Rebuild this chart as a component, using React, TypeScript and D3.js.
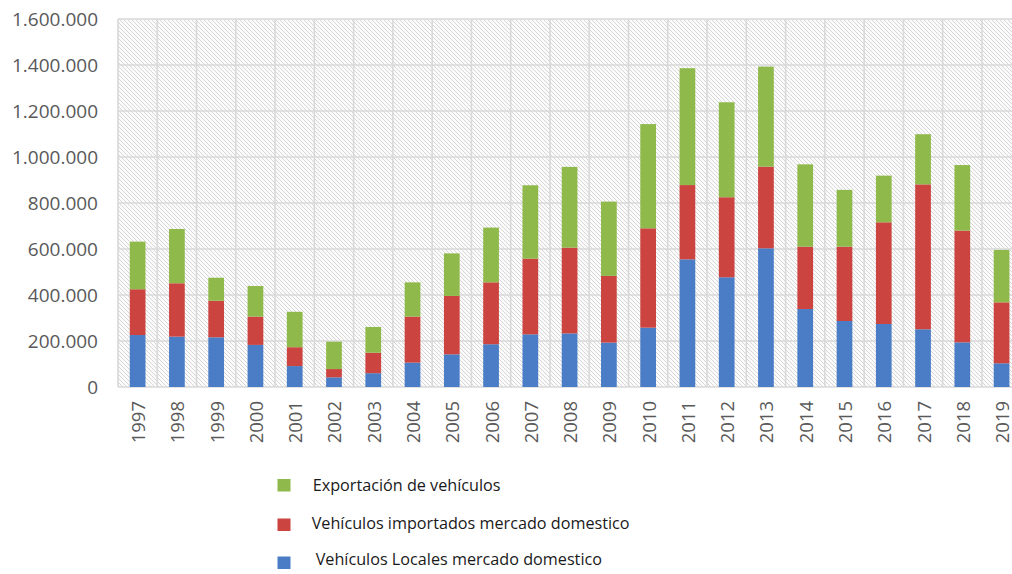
import React from "react";
import * as d3 from "d3";

// Years on the category axis
const years: string[] = [
  "1997", "1998", "1999", "2000", "2001", "2002", "2003", "2004", "2005", "2006",
  "2007", "2008", "2009", "2010", "2011", "2012", "2013", "2014", "2015", "2016",
  "2017", "2018", "2019",
];

// Vehículos locales vendidos en el mercado doméstico
const locales: number[] = [
  226000, 219000, 216000, 183000, 91000, 42000, 60000, 106000, 142000, 186000,
  229000, 233000, 193000, 258000, 555000, 477000, 603000, 339000, 287000, 274000,
  251000, 194000, 103000,
];

// Vehículos importados vendidos en el mercado doméstico
const importados: number[] = [
  199000, 232000, 159000, 123000, 82000, 36000, 89000, 200000, 254000, 269000,
  329000, 373000, 290000, 432000, 323000, 348000, 355000, 271000, 323000, 442000,
  630000, 486000, 265000,
];

// Exportación de vehículos
const exportacion: number[] = [
  207000, 236000, 100000, 133000, 154000, 119000, 112000, 149000, 185000, 238000,
  319000, 351000, 323000, 453000, 508000, 413000, 435000, 358000, 247000, 203000,
  218000, 285000, 228000,
];

const yTicks: number[] = [0, 200000, 400000, 600000, 800000, 1000000, 1200000, 1400000, 1600000];

const seriesKeys = ["locales", "importados", "exportacion"] as const;
const seriesColors: Record<string, string> = {
  locales: "#4a7dc6",
  importados: "#cc4440",
  exportacion: "#8fb94b",
};

const legendItems = [
  { key: "exportacion", label: "Exportación de vehículos" },
  { key: "importados", label: "Vehículos importados mercado domestico" },
  { key: "locales", label: "Vehículos Locales mercado domestico" },
];

const W = 1012;
const H = 574;
const plot = { left: 118, top: 19, bottom: 387, step: 39.27 };

const locale = d3.formatLocale({
  decimal: ",",
  thousands: ".",
  grouping: [3],
  currency: ["", ""],
});
const fmt = locale.format(",");

export default function App() {
  const rows = years.map((y, i) => ({
    year: y,
    locales: locales[i],
    importados: importados[i],
    exportacion: exportacion[i],
  }));

  const x = d3
    .scaleBand<string>()
    .domain(years)
    .range([plot.left, plot.left + plot.step * years.length])
    .paddingInner(0.6)
    .paddingOuter(0.3);

  const y = d3.scaleLinear().domain([0, 1600000]).range([plot.bottom, plot.top]);

  const stacked = d3.stack<any>().keys(seriesKeys as unknown as string[])(rows);

  const x0 = x.range()[0];
  const x1 = x.range()[1];
  const step = x.step();

  const axisFont = "'Open Sans', sans-serif";

  return (
    <svg
      width={W}
      height={H}
      style={{ position: "absolute", left: 0, top: 0, background: "#fff" }}
    >
      <defs>
        <pattern id="hatch" width="4" height="4" patternUnits="userSpaceOnUse">
          <rect width="4" height="4" fill="#fbfbfb" />
          <path d="M-1,-1 L5,5 M3,-1 L5,1 M-1,3 L1,5" stroke="#d2d2d2" strokeWidth="0.9" />
        </pattern>
        <clipPath id="clipAll">
          <rect x="0" y="0" width={W} height={H} />
        </clipPath>
      </defs>

      <g clipPath="url(#clipAll)">
        {/* hatched plot background */}
        <rect
          x={x0}
          y={plot.top}
          width={x1 - x0}
          height={plot.bottom - plot.top}
          fill="url(#hatch)"
        />

        {/* horizontal gridlines */}
        {yTicks.map((t) => (
          <line
            key={"h" + t}
            x1={x0}
            x2={x1}
            y1={y(t)}
            y2={y(t)}
            stroke="#d9d9d9"
            strokeWidth={1.6}
          />
        ))}

        {/* vertical gridlines at category boundaries */}
        {d3.range(years.length + 1).map((i) => (
          <line
            key={"v" + i}
            x1={x0 + i * step}
            x2={x0 + i * step}
            y1={plot.top}
            y2={plot.bottom}
            stroke="#d9d9d9"
            strokeWidth={1.6}
          />
        ))}

        {/* stacked bars */}
        {stacked.map((layer) => (
          <g key={layer.key} fill={seriesColors[layer.key]}>
            {layer.map((d, i) => (
              <rect
                key={years[i]}
                x={x(years[i])}
                y={y(d[1])}
                width={x.bandwidth()}
                height={y(d[0]) - y(d[1])}
              />
            ))}
          </g>
        ))}

        {/* y-axis labels */}
        {yTicks.map((t) => (
          <text
            key={"yl" + t}
            x={98}
            y={y(t)}
            textAnchor="end"
            dominantBaseline="central"
            fontFamily={axisFont}
            fontSize={19}
            fill="#595959"
          >
            {fmt(t)}
          </text>
        ))}

        {/* x-axis labels, rotated */}
        {years.map((yr) => {
          const cx = (x(yr) as number) + x.bandwidth() / 2;
          const ty = 401;
          return (
            <text
              key={"xl" + yr}
              transform={`translate(${cx},${ty}) rotate(-90)`}
              textAnchor="end"
              dominantBaseline="central"
              fontFamily={axisFont}
              fontSize={18.5}
              fill="#595959"
            >
              {yr}
            </text>
          );
        })}

        {/* legend */}
        {legendItems.map((item, i) => {
          const sq = [479, 518.5, 556.5][i];
          const tx = [312.7, 311.7, 315.7][i];
          const ty = [485, 523, 559][i];
          return (
            <g key={item.key}>
              <rect x={277.5} y={sq} width={13} height={12.5} fill={seriesColors[item.key]} />
              <text
                x={tx}
                y={ty}
                dominantBaseline="central"
                fontFamily="'Open Sans', sans-serif"
                fontSize={16.2}
                fill="#1a1a1a"
              >
                {item.label}
              </text>
            </g>
          );
        })}
      </g>
    </svg>
  );
}
